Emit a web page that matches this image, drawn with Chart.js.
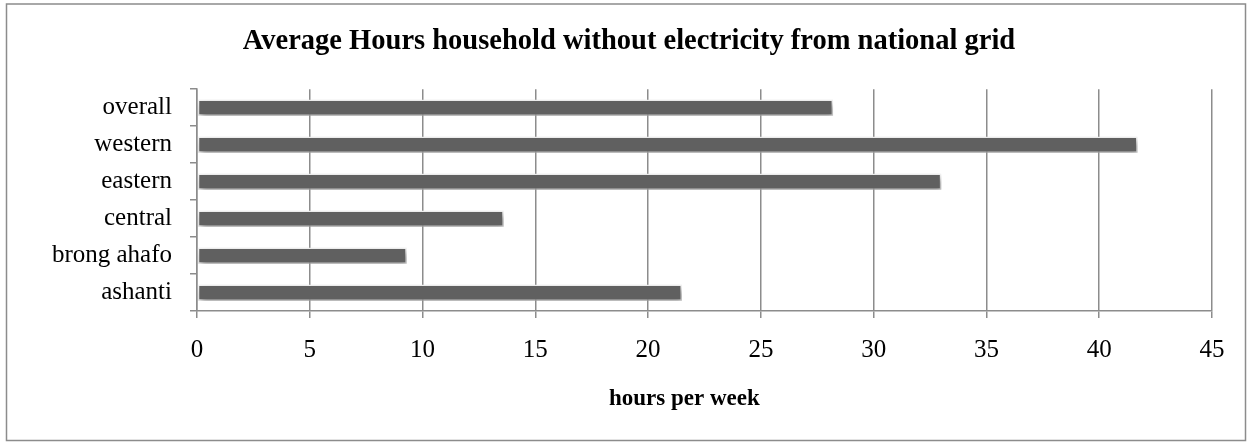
<!DOCTYPE html>
<html>
<head>
<meta charset="utf-8">
<script src="https://cdn.jsdelivr.net/npm/chart.js@4"></script>
<style>
  html, body { margin: 0; padding: 0; background: #ffffff; }
  #wrap { position: relative; width: 1252px; height: 445px; }
</style>
</head>
<body>
<div id="wrap"><canvas id="c" width="1252" height="445"></canvas></div>
<script>
// ---- data ----
const categories = ['overall', 'western', 'eastern', 'central', 'brong ahafo', 'ashanti'];
const hoursPerWeek = [28.2, 41.7, 33.0, 13.6, 9.3, 21.5];
const xTicks = [0, 5, 10, 15, 20, 25, 30, 35, 40, 45];
const chartTitle = 'Average Hours household without electricity from national grid';
const xAxisTitle = 'hours per week';

const SERIF = '"Liberation Serif", "DejaVu Serif", serif';
const GRID = '#8c8c8c';

const frame = {
  id: 'frame',
  beforeDraw(chart) {
    const ctx = chart.ctx;
    ctx.save();
    ctx.fillStyle = '#ffffff';
    ctx.fillRect(0, 0, chart.width, chart.height);
    ctx.strokeStyle = '#8c8c8c';
    ctx.lineWidth = 1.5;
    ctx.strokeRect(6.5, 4, 1239, 436.5);
    ctx.restore();
  }
};

const barShadow = {
  id: 'barShadow',
  beforeDatasetsDraw(chart) {
    const ctx = chart.ctx;
    ctx.save();
    ctx.shadowColor = 'rgba(0,0,0,0.4)';
    ctx.shadowBlur = 6;
    ctx.shadowOffsetX = 2;
    ctx.shadowOffsetY = 4;
  },
  afterDatasetsDraw(chart) {
    chart.ctx.restore();
  }
};

new Chart(document.getElementById('c'), {
  type: 'bar',
  data: {
    labels: categories,
    datasets: [{
      data: hoursPerWeek,
      backgroundColor: '#606060',
      borderColor: '#f4f4f4',
      borderWidth: 1.5,
      borderSkipped: false,
      categoryPercentage: 1,
      barPercentage: 0.44
    }]
  },
  options: {
    indexAxis: 'y',
    responsive: false,
    animation: false,
    devicePixelRatio: 1,
    layout: { padding: { left: 46, right: 40, top: 0, bottom: 0 } },
    plugins: {
      legend: { display: false },
      tooltip: { enabled: false },
      title: {
        display: true,
        text: chartTitle,
        color: '#000000',
        font: { family: SERIF, size: 28.5, weight: 'bold' },
        padding: { top: 25, bottom: 30 }
      }
    },
    scales: {
      x: {
        type: 'linear',
        min: 0,
        max: 45,
        afterBuildTicks(scale) { scale.ticks = xTicks.map(v => ({ value: v })); },
        afterFit(scale) { scale.height = 134; },
        grid: { color: GRID, lineWidth: 1.5, tickLength: 7, drawTicks: true },
        border: { color: GRID, width: 1.5 },
        ticks: {
          color: '#000000',
          font: { family: SERIF, size: 25 },
          padding: 17
        },
        title: {
          display: true,
          text: xAxisTitle + '\u00a0'.repeat(7),
          color: '#000000',
          font: { family: SERIF, size: 23, weight: 'bold' },
          padding: { top: 0, bottom: 32 }
        }
      },
      y: {
        afterFit(scale) { scale.width = 151; },
        grid: { display: true, drawOnChartArea: false, color: GRID, lineWidth: 1.5, tickLength: 7, offset: true },
        border: { color: GRID, width: 1.5 },
        ticks: {
          color: '#000000',
          font: { family: SERIF, size: 25 },
          padding: 18
        }
      }
    }
  },
  plugins: [frame, barShadow]
});
</script>
</body>
</html>
